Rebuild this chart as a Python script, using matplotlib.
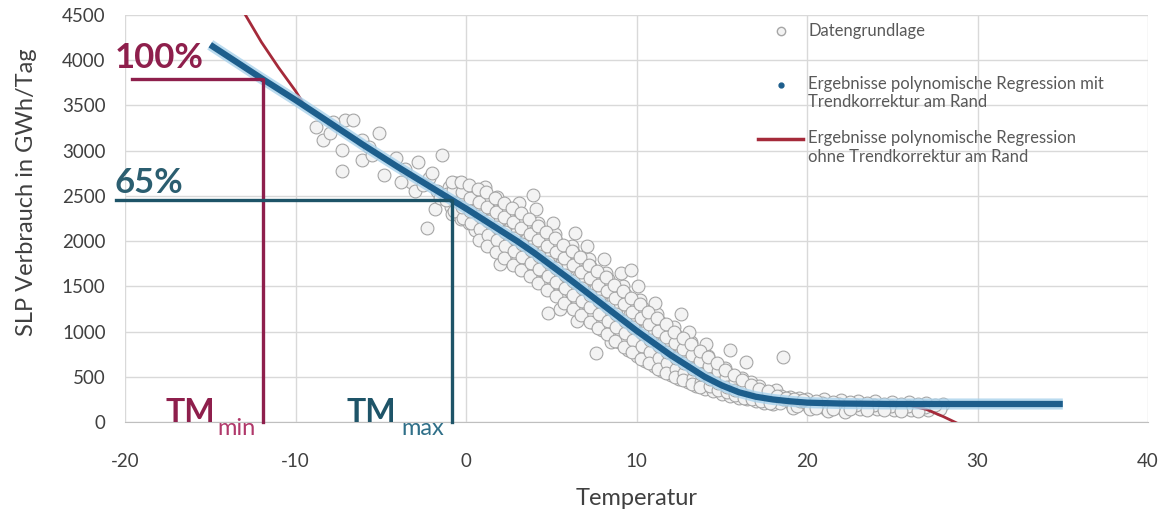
import matplotlib
matplotlib.use('Agg')
import matplotlib.pyplot as plt

plt.rcParams['font.family'] = ['Lato', 'DejaVu Sans']
plt.rcParams['axes.unicode_minus'] = False

# regression with trend correction (blue)
reg_temp = [-15, -12, -10, -8, -6, -4, -2, -1, 0, 1, 2, 3, 4, 5, 6, 7, 8, 9, 10,
            11, 12, 13, 14, 15, 16, 17, 18, 19, 20, 22, 25, 30, 35]
reg_val = [4170, 3800, 3560, 3310, 3060, 2820, 2590, 2475, 2360, 2240, 2120, 2000,
           1870, 1730, 1590, 1445, 1300, 1155, 1010, 875, 740, 620, 500, 405, 330,
           280, 250, 230, 215, 205, 200, 200, 200]

# regression without trend correction (red)
raw_temp = [-13, -12, -11, -10, -9.4, -8, -6, -4, -2, 0, 2, 4, 6, 8, 10, 12, 14,
            16, 18, 20, 22, 25, 26, 27, 28, 29]
raw_val = [4520, 4200, 3920, 3660, 3480, 3310, 3060, 2820, 2590, 2360, 2120, 1870,
           1590, 1300, 1010, 740, 500, 330, 250, 215, 205, 200, 185, 140, 60, -30]

# daily data points
pts = [
    (-8.4, 3120), (-8.8, 3260), (-7.1, 3340), (-6.6, 3340), (-7.3, 3010), (-6.1, 3120),
    (-5.1, 3200), (-5.7, 3040), (-7.3, 2770), (-6.1, 2900), (-4.8, 2730), (-4.1, 2920),
    (-3.6, 2800), (-2.8, 2880), (-1.4, 2950), (-2.2, 2700), (-2.3, 2150), (-1.8, 2350),
    (-0.6, 2640), (-0.2, 2450), (1.8, 2490), (3.9, 2510), (-3.2, 2650), (-5.5, 2950),
    (-8.0, 3200), (-7.8, 3320), (-3.0, 2550), (-2.5, 2620), (-1.7, 2550), (-1.5, 2480),
    (-2.0, 2750), (-3.8, 2650),
    (-1.0, 2600), (-0.9, 2380), (-1.1, 2520), (-0.8, 2300), (-1.2, 2450),
    (-0.5, 2560), (-0.4, 2350), (-0.6, 2480), (-0.3, 2250), (-0.5, 2420), (-0.7, 2600),
    (0.0, 2500), (0.1, 2290), (-0.1, 2420), (0.2, 2200), (0.0, 2580), (0.1, 2350),
    (0.5, 2450), (0.4, 2200), (0.6, 2380), (0.5, 2120), (0.3, 2520), (0.6, 2300),
    (1.0, 2400), (1.1, 2150), (0.9, 2320), (1.0, 2050), (1.2, 2480), (0.9, 2250), (1.1, 2600),
    (1.5, 2350), (1.4, 2080), (1.6, 2270), (1.5, 1980), (1.3, 2420), (1.7, 2180),
    (2.0, 2300), (2.1, 2000), (1.9, 2200), (2.0, 1900), (2.2, 2400), (1.9, 2100), (2.0, 1750),
    (2.5, 2250), (2.4, 1950), (2.6, 2150), (2.5, 1850), (2.3, 2350), (2.6, 2050),
    (3.0, 2200), (3.1, 1880), (2.9, 2080), (3.0, 1780), (3.2, 2300), (2.9, 1980), (3.1, 2420),
    (3.5, 2150), (3.4, 1800), (3.6, 2020), (3.5, 1700), (3.3, 2250), (3.6, 1920),
    (4.0, 2100), (4.1, 1750), (3.9, 1960), (4.0, 1620), (4.2, 2200), (3.9, 1850), (4.1, 2350),
    (4.5, 2030), (4.4, 1680), (4.6, 1900), (4.5, 1550), (4.3, 2130), (4.6, 1780), (4.8, 1210),
    (5.0, 1950), (5.1, 1600), (4.9, 1830), (5.0, 1480), (5.2, 2080), (4.9, 1720), (5.1, 2200),
    (5.5, 1880), (5.4, 1530), (5.6, 1760), (5.5, 1400), (5.3, 2000), (5.6, 1650), (5.5, 1250),
    (6.0, 1820), (6.1, 1450), (5.9, 1700), (6.0, 1320), (6.2, 1950), (5.9, 1580), (6.4, 2090),
    (6.5, 1750), (6.4, 1380), (6.6, 1620), (6.5, 1250), (6.3, 1880), (6.6, 1500), (6.5, 1120),
    (7.0, 1680), (7.1, 1300), (6.9, 1560), (7.0, 1180), (7.2, 1800), (6.9, 1430), (7.1, 1950),
    (7.5, 1600), (7.4, 1230), (7.6, 1480), (7.5, 1100), (7.3, 1720), (7.6, 1360), (7.6, 760),
    (8.0, 1530), (8.1, 1150), (7.9, 1420), (8.0, 1020), (8.2, 1650), (7.9, 1290), (8.1, 1800),
    (8.5, 1450), (8.4, 1080), (8.6, 1350), (8.5, 950), (8.3, 1580), (8.6, 1220), (8.5, 880),
    (9.0, 1380), (9.1, 1000), (8.9, 1280), (9.0, 880), (9.2, 1500), (8.9, 1150), (9.1, 1650),
    (9.5, 1300), (9.4, 930), (9.6, 1200), (9.5, 800), (9.3, 1420), (9.7, 1680),
    (10.0, 1230), (10.1, 860), (9.9, 1120), (10.0, 730), (10.2, 1350), (9.9, 1000), (10.1, 1500),
    (10.5, 1150), (10.4, 800), (10.6, 1050), (10.5, 680), (10.3, 1270), (10.6, 930),
    (11.0, 1080), (11.1, 730), (10.9, 980), (11.0, 620), (11.2, 1200), (10.9, 870), (11.1, 1320),
    (11.5, 1000), (11.4, 680), (11.6, 900), (11.5, 560), (11.3, 1120), (11.6, 800),
    (12.0, 930), (12.1, 620), (11.9, 840), (12.0, 520), (12.2, 1050), (11.9, 740), (12.6, 1200),
    (12.5, 860), (12.4, 570), (12.6, 770), (12.5, 480), (12.3, 960), (12.6, 680),
    (13.0, 790), (13.1, 520), (12.9, 700), (13.0, 440), (13.2, 880), (12.9, 620), (13.1, 1000),
    (13.5, 720), (13.4, 470), (13.6, 640), (13.5, 400), (13.3, 800), (13.6, 560),
    (14.0, 650), (14.1, 420), (13.9, 580), (14.0, 370), (14.2, 730), (13.9, 500), (14.1, 860),
    (14.5, 590), (14.4, 380), (14.6, 520), (14.5, 340), (14.3, 660), (14.6, 450),
    (15.0, 530), (15.1, 350), (14.9, 470), (15.0, 310), (15.2, 600), (15.5, 800),
    (15.5, 480), (15.4, 320), (15.6, 420), (15.5, 290), (15.3, 540),
    (16.0, 430), (16.1, 290), (15.9, 380), (16.0, 270), (16.2, 490), (16.4, 660),
    (16.5, 390), (16.4, 270), (16.6, 350), (16.5, 250), (16.7, 440),
    (17.0, 360), (17.1, 250), (16.9, 320), (17.0, 230), (17.2, 400),
    (17.5, 330), (17.4, 230), (17.6, 300), (17.5, 210),
    (18.0, 310), (18.1, 220), (17.9, 280), (18.0, 200), (18.2, 360),
    (18.6, 720), (18.5, 290), (18.4, 210), (18.6, 250),
    (19.0, 280), (19.1, 190), (18.9, 250), (19.2, 160),
    (19.5, 270), (19.4, 180), (19.6, 230),
    (20.0, 260), (20.1, 170), (19.9, 220), (20.2, 140),
    (21.0, 250), (21.1, 150), (20.9, 210), (21.2, 120),
    (22.0, 240), (22.1, 150), (21.9, 200), (22.2, 110),
    (23.0, 235), (23.1, 140), (22.9, 190),
    (24.0, 230), (24.1, 140), (23.9, 185),
    (25.0, 225), (25.1, 135), (24.9, 180),
    (26.0, 220), (26.1, 130), (25.9, 175),
    (27.0, 215), (27.1, 130), (26.9, 170),
    (28.0, 200), (27.8, 140),
    # second pass, between the columns above
    (-0.75, 2560), (-0.7, 2330), (-0.8, 2650),
    (-0.25, 2540), (-0.2, 2260), (-0.3, 2650), (-0.25, 2380),
    (0.25, 2480), (0.3, 2200), (0.2, 2620), (0.25, 2330),
    (0.75, 2430), (0.8, 2130), (0.7, 2580), (0.75, 2010), (0.8, 2280),
    (1.25, 2380), (1.3, 2070), (1.2, 2540), (1.25, 1950), (1.3, 2220),
    (1.75, 2320), (1.8, 2010), (1.7, 2480), (1.75, 1880), (1.8, 2160),
    (2.25, 2270), (2.3, 1950), (2.2, 2420), (2.25, 1810), (2.3, 2100),
    (2.75, 2210), (2.8, 1890), (2.7, 2370), (2.75, 1740), (2.8, 2040),
    (3.25, 2150), (3.3, 1820), (3.2, 2310), (3.25, 1680), (3.3, 1970),
    (3.75, 2080), (3.8, 1760), (3.7, 2240), (3.75, 1610), (3.8, 1900),
    (4.25, 2010), (4.3, 1690), (4.2, 2170), (4.25, 1540), (4.3, 1840),
    (4.75, 1950), (4.8, 1620), (4.7, 2100), (4.75, 1460), (4.8, 1770),
    (5.25, 1880), (5.3, 1550), (5.2, 2030), (5.25, 1390), (5.3, 1700),
    (5.75, 1810), (5.8, 1480), (5.7, 1960), (5.75, 1320), (5.8, 1630),
    (6.25, 1740), (6.3, 1410), (6.2, 1890), (6.25, 1250), (6.3, 1560),
    (6.75, 1660), (6.8, 1340), (6.7, 1820), (6.75, 1180), (6.8, 1480),
    (7.25, 1590), (7.3, 1270), (7.2, 1740), (7.25, 1110), (7.3, 1410),
    (7.75, 1520), (7.8, 1200), (7.7, 1670), (7.75, 1040), (7.8, 1340),
    (8.25, 1450), (8.3, 1120), (8.2, 1600), (8.25, 970), (8.3, 1270),
    (8.75, 1370), (8.8, 1050), (8.7, 1520), (8.75, 900), (8.8, 1190),
    (9.25, 1300), (9.3, 980), (9.2, 1450), (9.25, 830), (9.3, 1120),
    (9.75, 1220), (9.8, 910), (9.7, 1370), (9.75, 770), (9.8, 1050),
    (10.25, 1150), (10.3, 840), (10.2, 1300), (10.25, 700), (10.3, 980),
    (10.75, 1080), (10.8, 780), (10.7, 1220), (10.75, 650), (10.8, 910),
    (11.25, 1010), (11.3, 710), (11.2, 1150), (11.25, 590), (11.3, 840),
    (11.75, 940), (11.8, 650), (11.7, 1080), (11.75, 540), (11.8, 770),
    (12.25, 870), (12.3, 590), (12.2, 1000), (12.25, 500), (12.3, 710),
    (12.75, 810), (12.8, 540), (12.7, 930), (12.75, 460), (12.8, 650),
    (13.25, 740), (13.3, 490), (13.2, 860), (13.25, 420), (13.3, 590),
    (13.75, 680), (13.8, 440), (13.7, 790), (13.75, 390), (13.8, 530),
    (14.25, 620), (14.3, 400), (14.2, 720), (14.3, 475),
    (14.75, 560), (14.8, 360), (14.7, 650), (14.8, 430),
    (15.25, 500), (15.3, 330), (15.2, 580), (15.3, 385),
    (15.75, 450), (15.8, 300), (15.7, 520), (15.8, 350),
    (16.25, 400), (16.3, 270), (16.2, 460),
    (16.75, 360), (16.8, 250), (16.7, 410),
    (17.25, 330), (17.3, 230), (17.2, 370),
    (17.75, 300), (17.8, 215), (17.7, 340),
    (18.25, 290), (18.75, 270), (19.25, 255), (19.75, 240), (20.5, 230), (20.5, 160),
    (21.5, 225), (21.5, 150), (22.5, 220), (22.5, 140), (23.5, 210), (23.5, 130),
    (24.5, 205), (24.5, 130), (25.5, 200), (25.5, 125), (26.5, 195), (26.5, 120),
    (27.5, 190),
]
scatter_temp = [p[0] for p in pts]
scatter_val = [p[1] for p in pts]

# marker levels
tm_min, val_100 = -11.9, 3790
tm_max, val_65 = -0.8, 2455

red_c = '#8e1f4c'
teal_c = '#1e5468'
blue_c = '#1d5e8c'
redline_c = '#a52a3a'

fig = plt.figure(figsize=(11.64, 5.16), dpi=100)
ax = fig.add_axes([0.1074, 0.182, 0.8789, 0.789])

ax.scatter(scatter_temp, scatter_val, s=85, facecolor='#f3f3f3', edgecolor='#a6a6a6',
           linewidth=0.8, zorder=2)
ax.plot(raw_temp, raw_val, color=redline_c, lw=2, zorder=3)
ax.plot(reg_temp, reg_val, color='#a9d2ec', lw=8, alpha=0.8, zorder=4, solid_capstyle='butt')
ax.plot(reg_temp, reg_val, color=blue_c, lw=4.5, zorder=5, solid_capstyle='butt')

# TMmin / TMmax guide lines
ax.plot([-19.6, tm_min, tm_min], [val_100, val_100, 0], color=red_c, lw=2.4,
        zorder=6, clip_on=False)
ax.plot([-20.5, tm_max, tm_max], [val_65, val_65, 0], color=teal_c, lw=2.4,
        zorder=6, clip_on=False)

ax.text(-20.6, 3916, '100%', color=red_c, fontsize=25, fontweight='bold',
        ha='left', va='baseline', zorder=7, clip_on=False)
ax.text(-20.6, 2533, '65%', color='#2b5e70', fontsize=25, fontweight='bold',
        ha='left', va='baseline', zorder=7, clip_on=False)
ax.text(-17.6, 0, 'TM', color=red_c, fontsize=23, fontweight='bold',
        ha='left', va='baseline', zorder=7, clip_on=False)
ax.text(-14.6, -140, 'min', color='#b0386a', fontsize=17,
        ha='left', va='baseline', zorder=7, clip_on=False)
ax.text(-7.0, 0, 'TM', color=teal_c, fontsize=23, fontweight='bold',
        ha='left', va='baseline', zorder=7, clip_on=False)
ax.text(-3.8, -140, 'max', color='#2f6f88', fontsize=17,
        ha='left', va='baseline', zorder=7, clip_on=False)

ax.set_xlim(-20, 40)
ax.set_ylim(0, 4500)
ax.set_xticks(range(-20, 41, 10))
ax.set_yticks(range(0, 4501, 500))
ax.grid(True, color='#d9d9d9', lw=1)
ax.set_axisbelow(True)
for s in ['top', 'right', 'left']:
    ax.spines[s].set_visible(False)
ax.spines['bottom'].set_color('#bfbfbf')
ax.tick_params(length=0, labelsize=13.5, labelcolor='#404040')
ax.tick_params(axis='y', pad=14)
ax.tick_params(axis='x', pad=22)
ax.set_xlabel('Temperatur', fontsize=17, color='#404040')
ax.set_ylabel('SLP Verbrauch in GWh/Tag', fontsize=17, color='#404040')
ax.xaxis.set_label_coords(0.5, -0.163)
ax.yaxis.set_label_coords(-0.086, 0.565)

# legend, placed by hand like the original
leg_fs = 12
leg_col = '#595959'
ax.plot([0.641], [0.961], 'o', ms=6, mfc='#f3f3f3', mec='#a6a6a6', transform=ax.transAxes,
        clip_on=False, zorder=8)
ax.text(0.668, 0.961, 'Datengrundlage', fontsize=leg_fs, color=leg_col, ha='left',
        va='center', transform=ax.transAxes)
ax.plot([0.641], [0.828], 'o', ms=3.5, mfc=blue_c, mec=blue_c, transform=ax.transAxes,
        clip_on=False, zorder=8)
ax.text(0.668, 0.851, 'Ergebnisse polynomische Regression mit\nTrendkorrektur am Rand',
        fontsize=leg_fs, color=leg_col, ha='left', va='top', linespacing=1.15,
        transform=ax.transAxes)
ax.plot([0.619, 0.663], [0.695, 0.695], color=redline_c, lw=2.5, transform=ax.transAxes,
        clip_on=False, zorder=8)
ax.text(0.668, 0.718, 'Ergebnisse polynomische Regression\nohne Trendkorrektur am Rand',
        fontsize=leg_fs, color=leg_col, ha='left', va='top', linespacing=1.25,
        transform=ax.transAxes)

fig.savefig('out.png', dpi=100)
